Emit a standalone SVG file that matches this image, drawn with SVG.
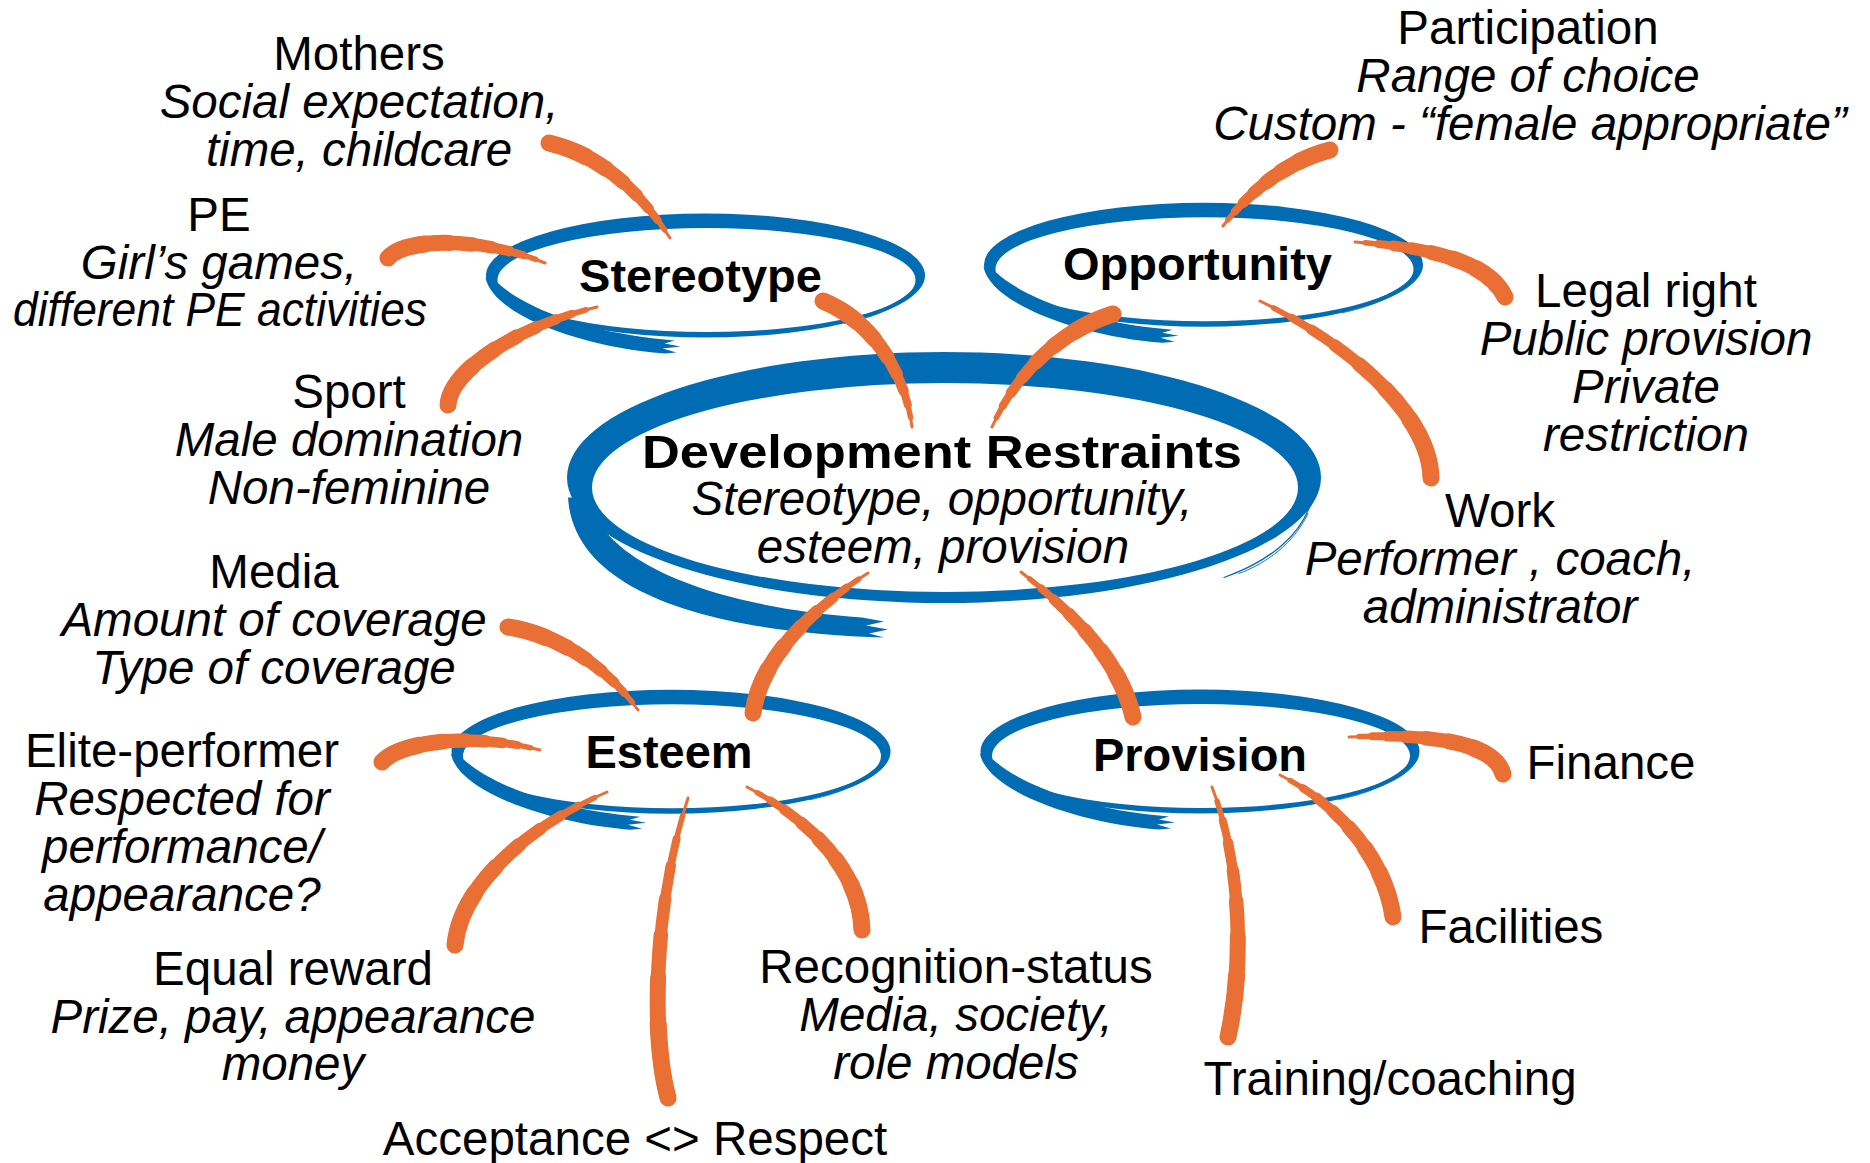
<svg xmlns="http://www.w3.org/2000/svg" width="1870" height="1163" viewBox="0 0 1870 1163">
<style>
.t{font-family:"Liberation Sans",Arial,Helvetica,sans-serif;font-size:47.5px;text-anchor:middle;fill:#000}
.i{font-style:italic}
.b{font-weight:bold;font-size:47px}
.blue{fill:#006CB4}
.hair{fill:none;stroke:#006CB4;stroke-linecap:round}
.c use{fill:none;stroke:#E96F35;stroke-linecap:round}
.k0{stroke-width:3}
.k1{stroke-width:5.5;stroke-dasharray:94 300}
.k2{stroke-width:8;stroke-dasharray:86 300}
.k3{stroke-width:10.5;stroke-dasharray:77 300}
.k4{stroke-width:12.5;stroke-dasharray:66 300}
.k5{stroke-width:14.5;stroke-dasharray:54 300}
.k6{stroke-width:16;stroke-dasharray:40 300}
.k7{stroke-width:17;stroke-dasharray:25 300}
</style>
<defs>
<g id="ring">
<path class="blue" fill-rule="evenodd" d="M-218.5,0 A219.5,62 0 1 0 220.5,0 A219.5,62 0 1 0 -218.5,0 Z M-207,4.5 A209,52 0 1 0 211,4.5 A209,52 0 1 0 -207,4.5 Z"/>
<path class="blue" d="M-219,2 C-212,40 -120,72 -40,78 L-28,77 L-42,73 L-24,71 L-40,68 L-30,65 L-50,63 C-120,55 -180,32 -206,8 Z"/>
<path class="hair" stroke-width="1.2" d="M219,-4 C214,20 180,38 120,50"/>
<path class="hair" stroke-width="0.8" d="M216,6 C205,28 170,42 140,48"/>
</g>
<g id="conn-layers"/>
<path id="p1" pathLength="100" d="M549,143 Q620,160 670,238"/>
<path id="p2" pathLength="100" d="M388,258 C405,238 480,236 545,263"/>
<path id="p3" pathLength="100" d="M448,405 C450,370 520,325 597,307"/>
<path id="p4" pathLength="100" d="M823,301 C870,320 905,370 912,427"/>
<path id="p5" pathLength="100" d="M1330,150 C1290,160 1250,190 1223,226"/>
<path id="p6" pathLength="100" d="M1505,297 C1490,265 1440,248 1355,242"/>
<path id="p7" pathLength="100" d="M1113,314 C1060,330 1015,375 992,427"/>
<path id="p8" pathLength="100" d="M1431,478 C1430,420 1360,350 1260,301"/>
<path id="p9" pathLength="100" d="M508,627 C560,635 610,670 638,710"/>
<path id="p10" pathLength="100" d="M382,762 C400,742 470,732 540,750"/>
<path id="p11" pathLength="100" d="M455,945 C460,890 520,830 607,792"/>
<path id="p12" pathLength="100" d="M753,713 C760,660 810,610 868,573"/>
<path id="p13" pathLength="100" d="M668,1098 C650,1030 655,900 688,798"/>
<path id="p14" pathLength="100" d="M862,930 C860,870 810,820 747,787"/>
<path id="p15" pathLength="100" d="M1133,717 C1120,660 1070,610 1021,572"/>
<path id="p16" pathLength="100" d="M1503,774 C1495,745 1440,733 1349,737"/>
<path id="p17" pathLength="100" d="M1393,917 C1385,860 1340,805 1280,775"/>
<path id="p18" pathLength="100" d="M1228,1037 C1245,960 1240,860 1212,787"/>
</defs>

<g id="node-development">
<g transform="translate(944,477.5)">
<path class="blue" fill-rule="evenodd" d="M-377,0 A377,125.5 0 1 0 377,0 A377,125.5 0 1 0 -377,0 Z M-352,10 A353,104.5 0 1 0 354,10 A353,104.5 0 1 0 -352,10 Z"/>
<path class="blue" d="M-376,20 C-370,120 -220,155 -60,160 L-75,156 L-56,152 L-78,148 L-60,144 L-82,140 C-220,130 -340,90 -356,20 Z"/>
<path class="hair" stroke-width="1.3" d="M368,22 C358,58 325,84 280,100"/>
<path class="hair" stroke-width="0.9" d="M364,36 C350,66 322,86 295,96"/>
</g>
<text class="t b" x="942" y="468" font-size="48" textLength="600" lengthAdjust="spacingAndGlyphs">Development Restraints</text>
<text class="t i" x="942" y="515">Stereotype, opportunity,</text>
<text class="t i" x="943" y="563">esteem, provision</text>
</g>

<g id="node-stereotype"><use href="#ring" x="704.5" y="275.5"/><text class="t b" x="700.5" y="292">Stereotype</text></g>
<g id="node-opportunity"><use href="#ring" x="1202.5" y="264.7"/><text class="t b" x="1197.5" y="280">Opportunity</text></g>
<g id="node-esteem"><use href="#ring" x="670" y="751.7"/><text class="t b" x="669" y="768">Esteem</text></g>
<g id="node-provision"><use href="#ring" x="1199" y="751.5"/><text class="t b" x="1200" y="771">Provision</text></g>

<g id="node-mothers"><text class="t"><tspan x="359" y="70">Mothers</tspan><tspan class="i" x="359" y="118">Social expectation,</tspan><tspan class="i" x="359" y="166">time, childcare</tspan></text></g>
<g id="node-pe"><text class="t"><tspan x="219" y="231">PE</tspan><tspan class="i" x="219" y="278.5">Girl’s games,</tspan></text><text class="t i" x="220" y="326" textLength="414" lengthAdjust="spacingAndGlyphs">different PE activities</text></g>
<g id="node-sport"><text class="t"><tspan x="349" y="408">Sport</tspan><tspan class="i" x="349" y="456">Male domination</tspan><tspan class="i" x="349" y="504">Non-feminine</tspan></text></g>
<g id="node-media"><text class="t"><tspan x="274" y="588">Media</tspan><tspan class="i" x="274" y="636">Amount of coverage</tspan><tspan class="i" x="274" y="684">Type of coverage</tspan></text></g>
<g id="node-elite"><text class="t"><tspan x="182" y="767">Elite-performer</tspan><tspan class="i" x="182" y="815">Respected for</tspan><tspan class="i" x="182" y="863">performance/</tspan><tspan class="i" x="182" y="911">appearance?</tspan></text></g>
<g id="node-equal"><text class="t"><tspan x="293" y="985">Equal reward</tspan><tspan class="i" x="293" y="1033">Prize, pay, appearance</tspan><tspan class="i" x="293" y="1080">money</tspan></text></g>
<g id="node-acceptance"><text class="t" x="635" y="1155">Acceptance &lt;&gt; Respect</text></g>
<g id="node-recognition"><text class="t"><tspan x="956" y="983">Recognition-status</tspan><tspan class="i" x="956" y="1031">Media, society,</tspan><tspan class="i" x="956" y="1079">role models</tspan></text></g>
<g id="node-participation"><text class="t"><tspan x="1528" y="44">Participation</tspan><tspan class="i" x="1528" y="92">Range of choice</tspan><tspan class="i" x="1530" y="140">Custom - “female appropriate”</tspan></text></g>
<g id="node-legal"><text class="t"><tspan x="1646" y="307">Legal right</tspan><tspan class="i" x="1646" y="355">Public provision</tspan><tspan class="i" x="1646" y="403">Private</tspan><tspan class="i" x="1646" y="451">restriction</tspan></text></g>
<g id="node-work"><text class="t"><tspan x="1500" y="527">Work</tspan><tspan class="i" x="1500" y="575">Performer , coach,</tspan><tspan class="i" x="1500" y="623">administrator</tspan></text></g>
<g id="node-finance"><text class="t" x="1611" y="779">Finance</text></g>
<g id="node-facilities"><text class="t" x="1511" y="943">Facilities</text></g>
<g id="node-training"><text class="t" x="1390" y="1095">Training/coaching</text></g>

<g id="connectors" class="c">
<g><use href="#p1" class="k0"/><use href="#p1" class="k1"/><use href="#p1" class="k2"/><use href="#p1" class="k3"/><use href="#p1" class="k4"/><use href="#p1" class="k5"/><use href="#p1" class="k6"/><use href="#p1" class="k7"/></g>
<g><use href="#p2" class="k0"/><use href="#p2" class="k1"/><use href="#p2" class="k2"/><use href="#p2" class="k3"/><use href="#p2" class="k4"/><use href="#p2" class="k5"/><use href="#p2" class="k6"/><use href="#p2" class="k7"/></g>
<g><use href="#p3" class="k0"/><use href="#p3" class="k1"/><use href="#p3" class="k2"/><use href="#p3" class="k3"/><use href="#p3" class="k4"/><use href="#p3" class="k5"/><use href="#p3" class="k6"/><use href="#p3" class="k7"/></g>
<g><use href="#p4" class="k0"/><use href="#p4" class="k1"/><use href="#p4" class="k2"/><use href="#p4" class="k3"/><use href="#p4" class="k4"/><use href="#p4" class="k5"/><use href="#p4" class="k6"/><use href="#p4" class="k7"/></g>
<g><use href="#p5" class="k0"/><use href="#p5" class="k1"/><use href="#p5" class="k2"/><use href="#p5" class="k3"/><use href="#p5" class="k4"/><use href="#p5" class="k5"/><use href="#p5" class="k6"/><use href="#p5" class="k7"/></g>
<g><use href="#p6" class="k0"/><use href="#p6" class="k1"/><use href="#p6" class="k2"/><use href="#p6" class="k3"/><use href="#p6" class="k4"/><use href="#p6" class="k5"/><use href="#p6" class="k6"/><use href="#p6" class="k7"/></g>
<g><use href="#p7" class="k0"/><use href="#p7" class="k1"/><use href="#p7" class="k2"/><use href="#p7" class="k3"/><use href="#p7" class="k4"/><use href="#p7" class="k5"/><use href="#p7" class="k6"/><use href="#p7" class="k7"/></g>
<g><use href="#p8" class="k0"/><use href="#p8" class="k1"/><use href="#p8" class="k2"/><use href="#p8" class="k3"/><use href="#p8" class="k4"/><use href="#p8" class="k5"/><use href="#p8" class="k6"/><use href="#p8" class="k7"/></g>
<g><use href="#p9" class="k0"/><use href="#p9" class="k1"/><use href="#p9" class="k2"/><use href="#p9" class="k3"/><use href="#p9" class="k4"/><use href="#p9" class="k5"/><use href="#p9" class="k6"/><use href="#p9" class="k7"/></g>
<g><use href="#p10" class="k0"/><use href="#p10" class="k1"/><use href="#p10" class="k2"/><use href="#p10" class="k3"/><use href="#p10" class="k4"/><use href="#p10" class="k5"/><use href="#p10" class="k6"/><use href="#p10" class="k7"/></g>
<g><use href="#p11" class="k0"/><use href="#p11" class="k1"/><use href="#p11" class="k2"/><use href="#p11" class="k3"/><use href="#p11" class="k4"/><use href="#p11" class="k5"/><use href="#p11" class="k6"/><use href="#p11" class="k7"/></g>
<g><use href="#p12" class="k0"/><use href="#p12" class="k1"/><use href="#p12" class="k2"/><use href="#p12" class="k3"/><use href="#p12" class="k4"/><use href="#p12" class="k5"/><use href="#p12" class="k6"/><use href="#p12" class="k7"/></g>
<g><use href="#p13" class="k0"/><use href="#p13" class="k1"/><use href="#p13" class="k2"/><use href="#p13" class="k3"/><use href="#p13" class="k4"/><use href="#p13" class="k5"/><use href="#p13" class="k6"/><use href="#p13" class="k7"/></g>
<g><use href="#p14" class="k0"/><use href="#p14" class="k1"/><use href="#p14" class="k2"/><use href="#p14" class="k3"/><use href="#p14" class="k4"/><use href="#p14" class="k5"/><use href="#p14" class="k6"/><use href="#p14" class="k7"/></g>
<g><use href="#p15" class="k0"/><use href="#p15" class="k1"/><use href="#p15" class="k2"/><use href="#p15" class="k3"/><use href="#p15" class="k4"/><use href="#p15" class="k5"/><use href="#p15" class="k6"/><use href="#p15" class="k7"/></g>
<g><use href="#p16" class="k0"/><use href="#p16" class="k1"/><use href="#p16" class="k2"/><use href="#p16" class="k3"/><use href="#p16" class="k4"/><use href="#p16" class="k5"/><use href="#p16" class="k6"/><use href="#p16" class="k7"/></g>
<g><use href="#p17" class="k0"/><use href="#p17" class="k1"/><use href="#p17" class="k2"/><use href="#p17" class="k3"/><use href="#p17" class="k4"/><use href="#p17" class="k5"/><use href="#p17" class="k6"/><use href="#p17" class="k7"/></g>
<g><use href="#p18" class="k0"/><use href="#p18" class="k1"/><use href="#p18" class="k2"/><use href="#p18" class="k3"/><use href="#p18" class="k4"/><use href="#p18" class="k5"/><use href="#p18" class="k6"/><use href="#p18" class="k7"/></g>
</g>
</svg>
